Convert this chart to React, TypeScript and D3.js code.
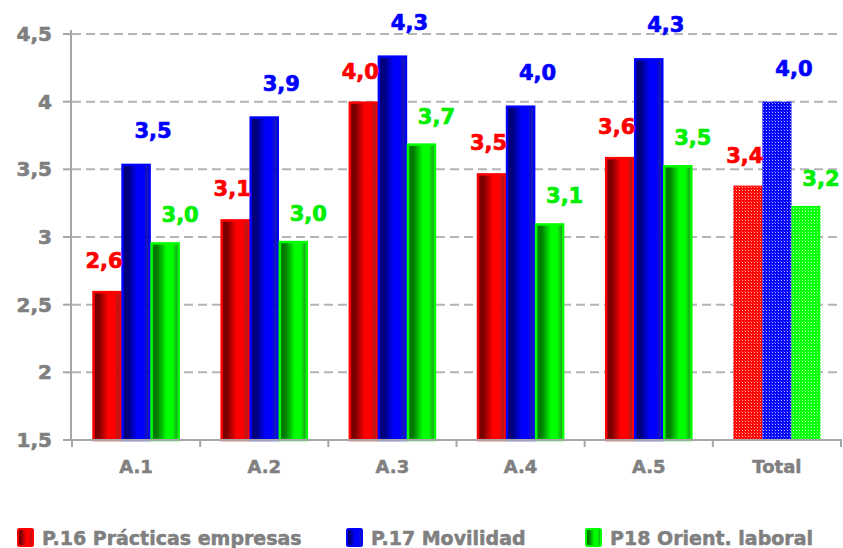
import React from "react";
import * as d3 from "d3";

const categories = ["A.1", "A.2", "A.3", "A.4", "A.5", "Total"];
const seriesNames = ["P.16 Prácticas empresas", "P.17 Movilidad", "P18 Orient. laboral"];
const practicas = [2.6, 3.13, 4.0, 3.47, 3.59, 3.38];
const movilidad = [3.54, 3.89, 4.34, 3.97, 4.32, 4.0];
const orientacion = [2.96, 2.97, 3.69, 3.1, 3.53, 3.23];
const yTicks = [1.5, 2, 2.5, 3, 3.5, 4, 4.5];

const W = 843;
const H = 548;
const seriesValues = [practicas, movilidad, orientacion];
const seriesColors = [
  { key: "r", main: "#ff0000", dark: "#7a0000", label: "#ff0000" },
  { key: "b", main: "#0000ff", dark: "#00007a", label: "#0000ff" },
  { key: "g", main: "#00ff00", dark: "#007a00", label: "#00ee00" },
];
const labelOffsets = [
  { dx: -3, dy: -30 },
  { dx: 17, dy: -33 },
  { dx: 15, dy: -27 },
];
const FONT = "'DejaVu Sans', Verdana, sans-serif";
const comma = (v: number) => d3.format(".1f")(v).replace(".", ",");

export default function App() {
  const x = d3.scaleBand<string>().domain(categories).range([72, 841]).paddingInner(0.32).paddingOuter(0.16);
  const xs = d3.scaleBand<number>().domain([0, 1, 2]).range([0, x.bandwidth()]).padding(0);
  const y = d3.scaleLinear().domain([1.5, 4.5]).range([440, 34]);
  const step = x.step();
  const axisColor = "#a6a6a6";
  const textGray = "#808080";

  return (
    <svg width={W} height={H} style={{ position: "absolute", left: 0, top: 0, background: "#fff" }}>
      <defs>
        {seriesColors.map((c) => (
          <linearGradient key={c.key} id={"grad-" + c.key} x1="0" x2="1" y1="0" y2="0">
            <stop offset="0%" stopColor={c.dark} />
            <stop offset="20%" stopColor={c.dark} />
            <stop offset="55%" stopColor={c.main} />
            <stop offset="78%" stopColor={c.main} />
            <stop offset="100%" stopColor={c.dark} stopOpacity={0.85} />
          </linearGradient>
        ))}
        {seriesColors.map((c) => (
          <pattern key={c.key} id={"pat-" + c.key} width="3" height="3" patternUnits="userSpaceOnUse">
            <rect width="3" height="3" fill={c.main} />
            <rect x="1" y="1" width="1" height="1" fill="#ffffff" opacity={0.7} />
            <rect x="0" y="0" width="1" height="1" fill="#ffffff" opacity={0.25} />
          </pattern>
        ))}
      </defs>

      {/* gridlines */}
      {yTicks.slice(1).map((t) => (
        <line key={t} x1={72} x2={842} y1={y(t)} y2={y(t)} stroke="#b4b4b4" strokeWidth={2} strokeDasharray="9,5" />
      ))}

      {/* bars */}
      {categories.map((cat, ci) => {
        const isTotal = cat === "Total";
        return (
          <g key={cat}>
            {seriesValues.map((vals, si) => {
              const c = seriesColors[si];
              const bx = (x(cat) as number) + (xs(si) as number);
              const bw = xs.bandwidth();
              const top = y(vals[ci]);
              const h = y(1.5) - top;
              return isTotal ? (
                <rect key={si} x={bx} y={top} width={bw} height={h} fill={`url(#pat-${c.key})`} />
              ) : (
                <rect
                  key={si}
                  x={bx + 1}
                  y={top + 1}
                  width={bw - 2}
                  height={h - 1}
                  fill={`url(#grad-${c.key})`}
                  stroke={c.main}
                  strokeWidth={2.5}
                />
              );
            })}
          </g>
        );
      })}

      {/* value labels */}
      {categories.map((cat, ci) =>
        seriesValues.map((vals, si) => {
          const bx = (x(cat) as number) + (xs(si) as number) + xs.bandwidth() / 2;
          return (
            <text
              key={cat + si}
              x={bx + labelOffsets[si].dx}
              y={y(vals[ci]) + labelOffsets[si].dy}
              textAnchor="middle"
              dominantBaseline="central"
              fontFamily={FONT}
              fontWeight="bold"
              fontSize={21}
              fill={seriesColors[si].label}
              stroke={seriesColors[si].label}
              strokeWidth={0.7}
            >
              {comma(vals[ci])}
            </text>
          );
        })
      )}

      {/* y axis */}
      <line x1={71} x2={71} y1={30} y2={441} stroke={axisColor} strokeWidth={2} />
      {yTicks.map((t) => (
        <g key={t}>
          <line x1={63} x2={71} y1={y(t)} y2={y(t)} stroke={axisColor} strokeWidth={2} />
          <text
            x={52}
            y={y(t)}
            textAnchor="end"
            dominantBaseline="central"
            fontFamily={FONT}
            fontWeight="bold"
            fontSize={20}
            fill={textGray}
            stroke={textGray}
            strokeWidth={0.6}
          >
            {String(t).replace(".", ",")}
          </text>
        </g>
      ))}

      {/* x axis */}
      <line x1={70} x2={842} y1={440} y2={440} stroke={axisColor} strokeWidth={2} />
      {d3.range(categories.length + 1).map((i) => {
        const xx = Math.min(72 + i * step, 841);
        return <line key={i} x1={xx} x2={xx} y1={440} y2={447} stroke={axisColor} strokeWidth={2} />;
      })}
      {categories.map((cat) => (
        <text
          key={cat}
          x={(x(cat) as number) + x.bandwidth() / 2}
          y={466}
          textAnchor="middle"
          dominantBaseline="central"
          fontFamily={FONT}
          fontWeight="bold"
          fontSize={18}
          fill={textGray}
          stroke={textGray}
          strokeWidth={0.5}
        >
          {cat}
        </text>
      ))}

      {/* legend */}
      {seriesNames.map((name, si) => {
        const lx = [17, 346, 585][si];
        const c = seriesColors[si];
        return (
          <g key={name}>
            <rect x={lx + 1} y={529} width={15} height={17} fill={`url(#grad-${c.key})`} stroke={c.main} strokeWidth={2} rx={1.5} />
            <text
              x={lx + 25}
              y={538}
              dominantBaseline="central"
              fontFamily={FONT}
              fontWeight="bold"
              fontSize={19}
              fill={textGray}
              stroke={textGray}
              strokeWidth={0.5}
            >
              {name}
            </text>
          </g>
        );
      })}
    </svg>
  );
}
